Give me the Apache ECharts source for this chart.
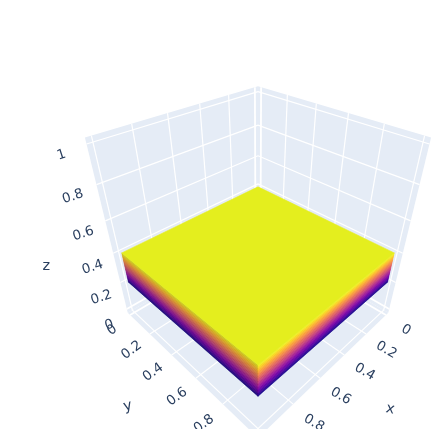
<!DOCTYPE html>
<html>
<head>
<meta charset="utf-8">
<script src="https://cdn.jsdelivr.net/npm/echarts@6/dist/echarts.min.js"></script>
<style>html,body{margin:0;padding:0;background:#fff}#c{position:absolute;left:0;top:0;width:444px;height:429px}</style>
</head>
<body>
<div id="c"></div>
<script>
// Data
var xTicks = [0, 0.2, 0.4, 0.6, 0.8, 1];
var yTicks = [0, 0.2, 0.4, 0.6, 0.8, 1];
var zTicks = [0, 0.2, 0.4, 0.6, 0.8, 1];
var xLabels = [0, 0.2, 0.4, 0.6, 0.8];
var yLabels = [0, 0.2, 0.4, 0.6, 0.8];
var zLabels = [0, 0.2, 0.4, 0.6, 0.8, 1];
var xRange = [-0.025, 1.03];
var yRange = [-0.025, 1.03];
var zRange = [-0.03, 1.03];
var blockX = [0.003, 0.997];
var blockY = [0.003, 0.997];
var blockLevels = [0.2, 0.21, 0.22, 0.23, 0.24, 0.25, 0.26, 0.27, 0.28, 0.29, 0.3, 0.31, 0.32, 0.33, 0.34, 0.35, 0.36, 0.37, 0.38, 0.39, 0.4];
var plasma = ['#0d0887', '#46039f', '#7201a8', '#9c179e', '#bd3786', '#d8576b', '#ed7953', '#fb9f3a', '#fdca26', '#f0f921'];

// Camera (plotly default eye)
var eye = 1.25, focal = 432, cx = 258, cy = 235.5, zMid = 0.51;
var S2 = Math.SQRT2, S3 = Math.sqrt(3), S6 = Math.sqrt(6), D = eye * S3;
function project(x, y, z) {
  var u = x - 0.5, v = y - 0.5, w = z - zMid;
  var X = (v - u) / S2, Y = (2 * w - u - v) / S6, Zc = D - (u + v + w) / S3;
  return [cx + focal * X / Zc, cy - focal * Y / Zc];
}
function poly(pts, fill, stroke, sw) {
  return { type: 'polygon', silent: true, shape: { points: pts },
    style: { fill: fill, stroke: stroke || fill, lineWidth: sw === undefined ? 0.6 : sw } };
}
function line(a, b, w) {
  return { type: 'line', silent: true, shape: { x1: a[0], y1: a[1], x2: b[0], y2: b[1] },
    style: { stroke: '#ffffff', lineWidth: w, fill: null } };
}
var WALL = '#e5ecf6';
function wallItems() {
  var x0 = xRange[0], x1 = xRange[1], y0 = yRange[0], y1 = yRange[1], z0 = zRange[0], z1 = zRange[1];
  var c = [
    poly([project(x0,y0,z0), project(x0,y1,z0), project(x0,y1,z1), project(x0,y0,z1)], WALL, WALL, 0),
    poly([project(x0,y0,z0), project(x1,y0,z0), project(x1,y0,z1), project(x0,y0,z1)], WALL, WALL, 0),
    poly([project(x0,y0,z0), project(x1,y0,z0), project(x1,y1,z0), project(x0,y1,z0)], WALL, WALL, 0)
  ];
  function w(t) { return t === 0 ? 1.8 : 1.2; }
  xTicks.forEach(function (t) {
    c.push(line(project(t,y0,z0), project(t,y0,z1), w(t)));
    c.push(line(project(t,y0,z0), project(t,y1,z0), w(t)));
  });
  yTicks.forEach(function (t) {
    c.push(line(project(x0,t,z0), project(x0,t,z1), w(t)));
    c.push(line(project(x0,t,z0), project(x1,t,z0), w(t)));
  });
  zTicks.forEach(function (t) {
    c.push(line(project(x0,y0,t), project(x0,y1,t), w(t)));
    c.push(line(project(x0,y0,t), project(x1,y0,t), w(t)));
  });
  return c;
}
function levelColor(z) {
  var lo = blockLevels[0], hi = blockLevels[blockLevels.length - 1];
  return echarts.color.lerp((z - lo) / (hi - lo), plasma);
}
function shade(col, f) {
  var p = echarts.color.parse(col);
  return 'rgb(' + Math.round(p[0]*f) + ',' + Math.round(p[1]*f) + ',' + Math.round(p[2]*f) + ')';
}
function blockItems() {
  var c = [], xa = blockX[0], xb = blockX[1], ya = blockY[0], yb = blockY[1];
  for (var i = 0; i < blockLevels.length - 1; i++) {
    var a = blockLevels[i], b = blockLevels[i + 1], col = levelColor((a + b) / 2);
    c.push(poly([project(xb,ya,a), project(xb,yb,a), project(xb,yb,b), project(xb,ya,b)], shade(col, 0.84)));
    c.push(poly([project(xa,yb,a), project(xb,yb,a), project(xb,yb,b), project(xa,yb,b)], col));
  }
  var top = blockLevels[blockLevels.length - 1];
  c.push(poly([project(xa,ya,top), project(xb,ya,top), project(xb,yb,top), project(xa,yb,top)], '#e4ee1e'));
  return c;
}
var INK = '#2a3f5f';
function txt(s, p, rot, size) {
  return { type: 'text', silent: true, x: p[0], y: p[1], rotation: rot * Math.PI / 180,
    style: { text: s, fill: INK, font: size + 'px "DejaVu Sans"', align: 'center', verticalAlign: 'middle' } };
}
function labelItems() {
  var c = [], x1 = xRange[1], y0 = yRange[0], y1 = yRange[1], z0 = zRange[0];
  zLabels.forEach(function (t) {
    var p = project(x1, y0, t), f = (1 - t) / 0.8;
    c.push(txt(String(t), [p[0] - 25 + 6 * f, p[1] + 11 + 4 * f], 18, 13.5));
  });
  xLabels.forEach(function (t) {
    var p = project(t, y1, z0);
    c.push(txt(String(t), [p[0] + 20 + t, p[1] + 15 + 5 * t], -30, 13.5));
  });
  yLabels.forEach(function (t) {
    var p = project(x1, t, z0);
    c.push(txt(String(t), [p[0] - 18 - t, p[1] + 15 + 6 * t], 36, 13.5));
  });
  var zt = project(x1, y0, 0.4), xt = project(0.6, y1, z0), yt = project(x1, 0.6, z0);
  c.push(txt('z', [zt[0] - 67, zt[1] + 13], 0, 14.5));
  c.push(txt('x', [xt[0] + 70, xt[1] + 31], -12, 14.5));
  c.push(txt('y', [yt[0] - 68, yt[1] + 28], 14, 14.5));
  return c;
}
function layer(fn) {
  return { type: 'custom', coordinateSystem: 'none', silent: true, data: [0], clip: false,
    renderItem: function () { return { type: 'group', children: fn() }; } };
}
var chart = echarts.init(document.getElementById('c'), null, { renderer: 'canvas' });
chart.setOption({
  animation: false,
  backgroundColor: '#ffffff',
  series: [layer(wallItems), layer(blockItems), layer(labelItems)]
});
</script>
</body>
</html>
